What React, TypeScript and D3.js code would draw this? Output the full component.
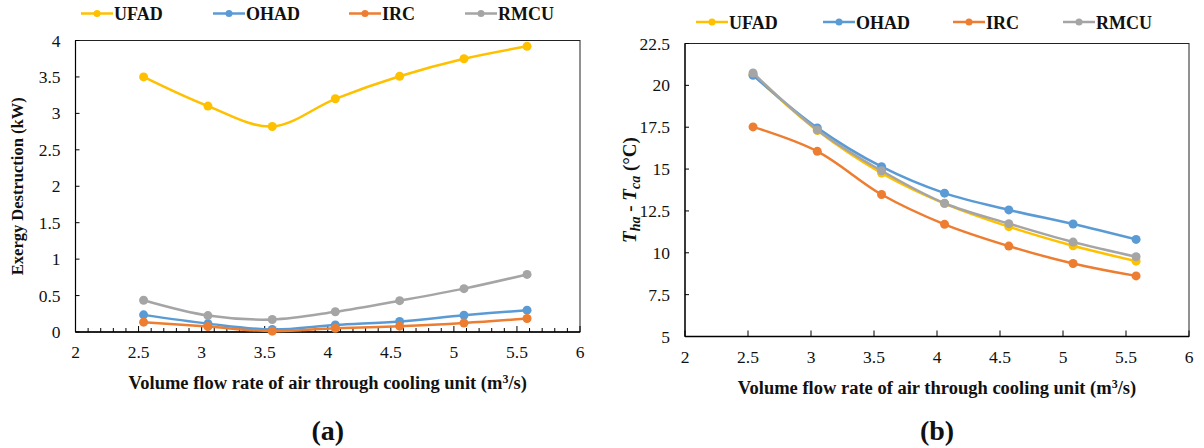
import React from 'react';
import * as d3 from 'd3';

// flow rates (m3/s)
const flowRates = [2.54, 3.05, 3.56, 4.06, 4.57, 5.08, 5.58];
const seriesNames = ['UFAD', 'OHAD', 'IRC', 'RMCU'];
const seriesColors = ['#FFC000', '#5B9BD5', '#ED7D31', '#A5A5A5'];

// (a) exergy destruction (kW)
const exUFAD = [3.5, 3.1, 2.82, 3.2, 3.51, 3.75, 3.92];
const exOHAD = [0.235, 0.115, 0.035, 0.097, 0.145, 0.23, 0.3];
const exIRC = [0.135, 0.075, 0.012, 0.052, 0.08, 0.124, 0.185];
const exRMCU = [0.435, 0.225, 0.172, 0.278, 0.43, 0.595, 0.79];

// (b) temperature difference (°C)
const dtUFAD = [20.65, 17.3, 14.76, 12.94, 11.56, 10.42, 9.5];
const dtOHAD = [20.6, 17.46, 15.14, 13.56, 12.56, 11.72, 10.8];
const dtIRC = [17.52, 16.06, 13.48, 11.7, 10.4, 9.36, 8.62];
const dtRMCU = [20.74, 17.34, 14.9, 12.96, 11.74, 10.64, 9.76];

const xTicks = [2, 2.5, 3, 3.5, 4, 4.5, 5, 5.5, 6];
const yTicksA = [0, 0.5, 1, 1.5, 2, 2.5, 3, 3.5, 4];
const yTicksB = [5, 7.5, 10, 12.5, 15, 17.5, 20, 22.5];

const FONT = '"Liberation Serif", "Times New Roman", serif';

interface PanelProps {
  left: number; right: number; top: number; bottom: number;
  yDomain: [number, number];
  yTicks: number[];
  series: number[][];
  minorTicks: boolean;
  legendY: number;
  legendX: number[];
  yTitle: React.ReactNode;
  yTitleX: number;
  yTitleSize: number;
  label: string;
}

function Panel(p: PanelProps) {
  const x = d3.scaleLinear().domain([2, 6]).range([p.left, p.right]);
  const y = d3.scaleLinear().domain(p.yDomain).range([p.bottom, p.top]);
  const line = d3.line<number>()
    .x((d, i) => x(flowRates[i]))
    .y(d => y(d))
    .curve(d3.curveCatmullRom.alpha(0.5));
  // minor ticks every 0.1 on panel (a)
  const minor = p.minorTicks ? d3.range(21, 60).map(v => v / 10).filter(v => Math.abs(v * 2 - Math.round(v * 2)) > 0.01) : [];
  const midX = (p.left + p.right) / 2;
  const txt = { fontFamily: FONT, fill: '#111' };

  return (
    <g>
      {/* legend */}
      {seriesNames.map((name, i) => (
        <g key={name} transform={`translate(${p.legendX[i]},${p.legendY})`}>
          <line x1={0} x2={32} y1={0} y2={0} stroke={seriesColors[i]} strokeWidth={2.5} />
          <circle cx={16} cy={0} r={3.5} fill={seriesColors[i]} />
          <text x={33} y={6.5} style={{ ...txt, fontSize: 18, fontWeight: 'bold' }}>{name}</text>
        </g>
      ))}

      {/* plot frame */}
      <rect x={p.left} y={p.top} width={p.right - p.left} height={p.bottom - p.top} fill="none" stroke="#222" strokeWidth={1} />
      <line x1={p.left} x2={p.right} y1={p.bottom} y2={p.bottom} stroke="#000" strokeWidth={1.5} />
      <line x1={p.left} x2={p.left} y1={p.top} y2={p.bottom} stroke="#000" strokeWidth={1.2} />

      {/* y ticks */}
      {p.yTicks.map(t => (
        <g key={t}>
          <line x1={p.left} x2={p.left + 4} y1={y(t)} y2={y(t)} stroke="#000" />
          <text x={p.left - 15} y={y(t) + 6} textAnchor="end" style={{ ...txt, fontSize: 17.5 }}>{String(t)}</text>
        </g>
      ))}

      {/* x ticks */}
      {xTicks.map(t => (
        <g key={t}>
          <line x1={x(t)} x2={x(t)} y1={p.bottom} y2={p.bottom - 6} stroke="#000" />
          <text x={x(t)} y={p.bottom + 26} textAnchor="middle" style={{ ...txt, fontSize: 17.5 }}>{String(t)}</text>
        </g>
      ))}
      {minor.map(t => (
        <line key={'m' + t} x1={x(t)} x2={x(t)} y1={p.bottom} y2={p.bottom - 4} stroke="#000" />
      ))}

      {/* series */}
      {p.series.map((vals, i) => (
        <g key={i}>
          <path d={line(vals) || ''} fill="none" stroke={seriesColors[i]} strokeWidth={2.5} />
          {vals.map((v, j) => (
            <circle key={j} cx={x(flowRates[j])} cy={y(v)} r={4.5} fill={seriesColors[i]} />
          ))}
        </g>
      ))}

      {/* axis titles */}
      <text x={midX} y={p.bottom + 57} textAnchor="middle" style={{ ...txt, fontSize: 18.5, fontWeight: 'bold' }}>
        Volume flow rate of air through cooling unit (m<tspan dy={-6} fontSize={12}>3</tspan><tspan dy={6}>/s)</tspan>
      </text>
      <text transform={`translate(${p.yTitleX},${(p.top + p.bottom) / 2}) rotate(-90)`} textAnchor="middle" style={{ ...txt, fontSize: p.yTitleSize, fontWeight: 'bold' }}>
        {p.yTitle}
      </text>
      <text x={midX} y={440} textAnchor="middle" style={{ ...txt, fontSize: 28, fontWeight: 'bold' }}>{p.label}</text>
    </g>
  );
}

export default function App() {
  return (
    <div style={{ position: 'absolute', left: 0, top: 0 }}>
      <svg width={1204} height={448} style={{ display: 'block', background: '#fff' }}>
        <Panel
          left={75.5} right={580} top={40.5} bottom={332}
          yDomain={[0, 4]} yTicks={yTicksA}
          series={[exUFAD, exOHAD, exIRC, exRMCU]}
          minorTicks={true}
          legendY={13.5}
          legendX={[81, 213, 349, 465]}
          yTitle="Exergy Destruction (kW)"
          yTitleX={23}
          yTitleSize={16.5}
          label="(a)"
        />
        <Panel
          left={685} right={1189} top={43.5} bottom={336.5}
          yDomain={[5, 22.5]} yTicks={yTicksB}
          series={[dtUFAD, dtOHAD, dtIRC, dtRMCU]}
          minorTicks={false}
          legendY={22}
          legendX={[696, 823, 953, 1063]}
          yTitle={<>
            <tspan fontStyle="italic">T</tspan><tspan fontStyle="italic" fontSize={14} dy={4}>ha</tspan>
            <tspan dy={-4}> - </tspan>
            <tspan fontStyle="italic">T</tspan><tspan fontStyle="italic" fontSize={14} dy={4}>ca</tspan>
            <tspan dy={-4}> (°C)</tspan>
          </>}
          yTitleX={636}
          yTitleSize={19}
          label="(b)"
        />
      </svg>
    </div>
  );
}
